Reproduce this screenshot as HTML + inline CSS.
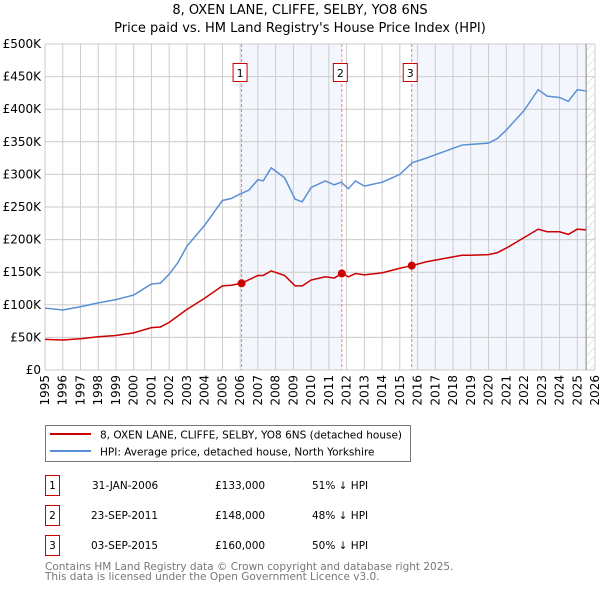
<!DOCTYPE html>
<html><head><meta charset="utf-8"><style>
body{margin:0;background:#fff;}
svg text{font-family:"DejaVu Sans","Liberation Sans",sans-serif;}
</style></head><body>
<svg id="c" width="600" height="590" xmlns="http://www.w3.org/2000/svg">
<defs><pattern id="hatch" width="6" height="6" patternUnits="userSpaceOnUse" patternTransform="rotate(45)"><line x1="0" y1="0" x2="0" y2="6" stroke="#ccc" stroke-width="1"/></pattern></defs>
<text x="300" y="14" text-anchor="middle" font-size="13">8, OXEN LANE, CLIFFE, SELBY, YO8 6NS</text>
<text x="300" y="32" text-anchor="middle" font-size="13">Price paid vs. HM Land Registry's House Price Index (HPI)</text>
<g id="plot"></g>
<rect x="45.5" y="425.5" width="365" height="36" fill="#fff" stroke="#777"/>
<line x1="50" y1="434" x2="91" y2="434" stroke="#cc0000" stroke-width="2"/>
<text x="100" y="438.5" font-size="10.5">8, OXEN LANE, CLIFFE, SELBY, YO8 6NS (detached house)</text>
<line x1="50" y1="451" x2="91" y2="451" stroke="#5b8fd4" stroke-width="2"/>
<text x="100" y="455.5" font-size="10.5">HPI: Average price, detached house, North Yorkshire</text>
<g font-size="10.5">
<rect x="45.5" y="475.5" width="14" height="20" fill="#fff" stroke="#cc0000"/><text x="52.5" y="489" text-anchor="middle">1</text>
<text x="92" y="489">31-JAN-2006</text><text x="215" y="489">£133,000</text><text x="312" y="489">51% ↓ HPI</text>
<rect x="45.5" y="505.5" width="14" height="20" fill="#fff" stroke="#cc0000"/><text x="52.5" y="519" text-anchor="middle">2</text>
<text x="91" y="519">23-SEP-2011</text><text x="215" y="519">£148,000</text><text x="312" y="519">48% ↓ HPI</text>
<rect x="45.5" y="535.5" width="14" height="20" fill="#fff" stroke="#cc0000"/><text x="52.5" y="549" text-anchor="middle">3</text>
<text x="91" y="549">03-SEP-2015</text><text x="215" y="549">£160,000</text><text x="312" y="549">50% ↓ HPI</text>
</g>
<text x="45" y="570" font-size="10.5" fill="#777">Contains HM Land Registry data © Crown copyright and database right 2025.</text>
<text x="45" y="580" font-size="10.5" fill="#777">This data is licensed under the Open Government Licence v3.0.</text>
</svg>
<script>
const yTicks=[0,50000,100000,150000,200000,250000,300000,350000,400000,450000,500000];
const yTickLabels=["£0","£50K","£100K","£150K","£200K","£250K","£300K","£350K","£400K","£450K","£500K"];
const years=[1995,1996,1997,1998,1999,2000,2001,2002,2003,2004,2005,2006,2007,2008,2009,2010,2011,2012,2013,2014,2015,2016,2017,2018,2019,2020,2021,2022,2023,2024,2025,2026];
const hpiT=[1995,1996,1997,1998,1999,2000,2001,2001.5,2002,2002.5,2003,2004,2005,2005.5,2006,2006.5,2007,2007.3,2007.75,2008.5,2009.1,2009.5,2010,2010.8,2011.3,2011.7,2012.1,2012.5,2013,2014,2015,2015.7,2016.5,2017.5,2018.5,2019,2020,2020.5,2021,2022,2022.8,2023.3,2024,2024.5,2025,2025.5];
const hpiV=[95000,92000,97000,103000,108000,115000,132000,133000,147000,165000,190000,222000,260000,263000,270000,276000,292000,290000,310000,295000,262000,258000,280000,290000,284000,288000,278000,290000,282000,288000,300000,318000,325000,335000,345000,346000,348000,355000,368000,398000,430000,420000,418000,412000,430000,428000];
const ppT=[1995,1996,1997,1998,1999,2000,2001,2001.5,2002,2003,2004,2005,2005.5,2006.08,2007,2007.3,2007.75,2008.5,2009.1,2009.5,2010,2010.8,2011.3,2011.73,2012.1,2012.5,2013,2014,2015,2015.67,2016.5,2017.5,2018.5,2019,2020,2020.5,2021,2022,2022.8,2023.3,2024,2024.5,2025,2025.5];
const ppV=[47000,46000,48000,51000,53000,57000,65000,66000,73000,93000,110000,129000,130000,133000,145000,145000,152000,145000,129000,129000,138000,143000,141000,148000,143000,148000,146000,149000,156000,160000,166000,171000,176000,176000,177000,180000,187000,203000,216000,212000,212000,208000,216000,215000];
const saleT=[2006.08,2011.73,2015.67];
const saleV=[133000,148000,160000];
const saleLabels=["1","2","3"];
const X0=45,X1=595,Y0=370,Y1=44;
const xs=t=>X0+(t-1995)*(X1-X0)/31;
const ys=v=>Y0-v*(Y0-Y1)/500000;
const g=document.getElementById('plot');
const NS='http://www.w3.org/2000/svg';
function mk(tag,attrs){const e=document.createElementNS(NS,tag);for(const k in attrs)e.setAttribute(k,attrs[k]);g.appendChild(e);return e;}
let s1=mk('rect',{x:xs(saleT[0]),y:Y1,width:xs(saleT[1])-xs(saleT[0]),height:Y0-Y1,fill:'#f3f6fd'});


let s2=mk('rect',{x:xs(saleT[2]),y:Y1,width:xs(2025.5)-xs(saleT[2]),height:Y0-Y1,fill:'#f3f6fd'});


let h=mk('rect',{x:xs(2025.5),y:Y1,width:X1-xs(2025.5),height:Y0-Y1,fill:'url(#hatch)'});


years.forEach(y=>{const l=mk('line',{x1:xs(y),x2:xs(y),y1:Y1,y2:Y0,stroke:'#ccc','stroke-width':1});


const t=mk('text',{x:0,y:0,'font-size':12,'text-anchor':'end',transform:`translate(${xs(y)+4},375) rotate(-90)`});t.textContent=y;

});
yTicks.forEach((v,i)=>{const l=mk('line',{x1:X0,x2:X1,y1:ys(v),y2:ys(v),stroke:'#ccc','stroke-width':1});


const t=mk('text',{x:X0-4,y:ys(v)+4,'font-size':12,'text-anchor':'end'});t.textContent=yTickLabels[i];

});
let ed=mk('line',{x1:xs(2025.5),x2:xs(2025.5),y1:Y1,y2:Y0,stroke:'#888','stroke-width':1});


saleT.forEach((t,i)=>{const l=mk('line',{x1:xs(t),x2:xs(t),y1:Y1,y2:Y0,stroke:'#f08080','stroke-width':1,'stroke-dasharray':'3,2'});


const r=mk('rect',{x:xs(t)-8.5,y:63.5,width:14,height:18,fill:'#fff',stroke:'#cc0000'});


const tx=mk('text',{x:xs(t)-1.5,y:77,'font-size':11,'text-anchor':'middle'});tx.textContent=saleLabels[i];

});
const hp=mk('polyline',{points:hpiT.map((t,i)=>xs(t)+','+ys(hpiV[i])).join(' '),fill:'none',stroke:'#5b8fd4','stroke-width':1.5});


const pp=mk('polyline',{points:ppT.map((t,i)=>xs(t)+','+ys(ppV[i])).join(' '),fill:'none',stroke:'#cc0000','stroke-width':1.5});


saleT.forEach((t,i)=>{const c=mk('circle',{cx:xs(t),cy:ys(saleV[i]),r:4,fill:'#cc0000'});

});
</script>
</body></html>
